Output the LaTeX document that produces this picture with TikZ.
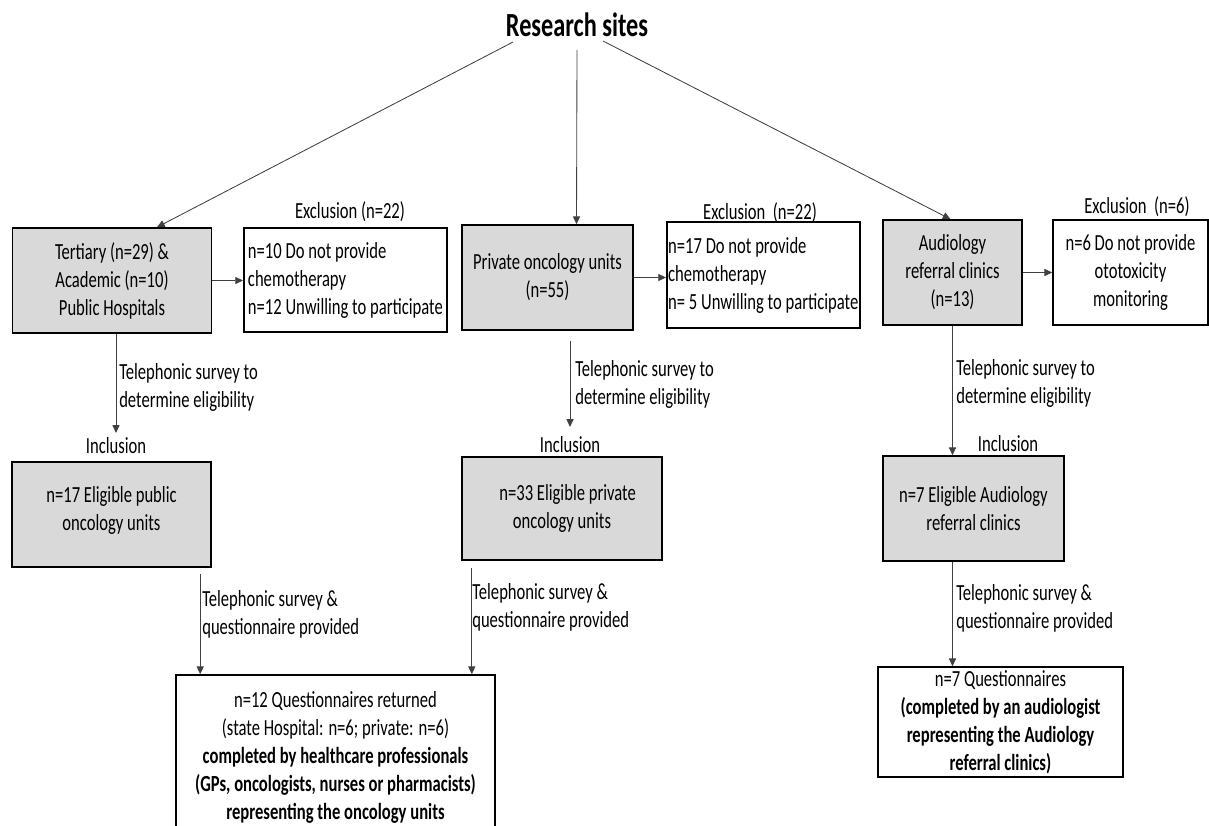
\documentclass[tikz,border=0pt]{standalone}
\usepackage{fontspec}
\setmainfont{Carlito}[FakeStretch=0.72]
\usetikzlibrary{arrows.meta}
\usetikzlibrary{positioning}
\usetikzlibrary{calc}
\definecolor{boxgray}{RGB}{217,217,217}

\begin{document}
\begin{tikzpicture}[x=0.025cm,y=-0.025cm,
        >={Triangle[length=5.5pt,width=5pt]},
        every node/.style={font=\fontsize{16.4}{19.9}\selectfont},
        site/.style={draw,line width=1.1pt,fill=boxgray,align=center,inner sep=2pt},
        excl/.style={draw,line width=1.1pt,fill=white,inner sep=3pt},
        flow/.style={->,draw=black!75,line width=0.6pt},
        note/.style={align=left,inner sep=0pt,anchor=west}]
        \useasboundingbox (0,0) rectangle (1209,826);
        % title
        \node[font=\fontsize{24}{28}\selectfont\bfseries] (title) at (577,25) {Research sites};
        % first row
        \node[site,minimum width=4.975cm,minimum height=2.625cm] (tert) at (112,280.5) {Tertiary (n=29) \&\\Academic (n=10)\\Public Hospitals};
        \node[excl,align=left,minimum height=2.6cm,anchor=west] (excl1) at (243,280) {n=10 Do not provide\\chemotherapy\\n=12 Unwilling to participate};
        \node[site,minimum width=4.275cm,minimum height=2.625cm] (priv) at (547.5,277.5) {Private oncology units\\(n=55)};
        \node[excl,align=left,inner xsep=1pt,minimum height=2.65cm,anchor=west] (excl2) at (666,275) {n=17 Do not provide\\chemotherapy\\n= 5 Unwilling to participate};
        \node[site,minimum width=3.475cm,minimum height=2.625cm] (aud) at (952.5,272.5) {Audiology\\referral clinics\\(n=13)};
        \node[excl,align=center,minimum width=3.875cm,minimum height=2.625cm] (excl3) at (1130.5,272.5) {n=6 Do not provide\\ototoxicity\\monitoring};
        \node (exlab1) at (350,212) {Exclusion (n=22)};
        \node (exlab2) at (760,213) {Exclusion~~(n=22)};
        \node (exlab3) at (1137,207) {Exclusion~~(n=6)};
        % second row
        \node[note] (tel1) at (119,387) {Telephonic survey to\\determine eligibility};
        \node[note] (tel2) at (575,384) {Telephonic survey to\\determine eligibility};
        \node[note] (tel3) at (956,383) {Telephonic survey to\\determine eligibility};
        \node (incl1) at (116,446) {Inclusion};
        \node (incl2) at (570,445) {Inclusion};
        \node (incl3) at (1008,444) {Inclusion};
        \node[site,minimum width=4.975cm,minimum height=2.625cm] (pubel) at (111.5,514.5) {n=17 Eligible public\\oncology units\\[-11pt]};
        \node[site,minimum width=5cm,minimum height=2.575cm] (privel) at (562,508.5) {~~~n=33 Eligible private\\oncology units};
        \node[site,minimum width=4.525cm,minimum height=2.625cm] (audel) at (973.5,508.5) {n=7 Eligible Audiology\\referral clinics};
        % third row
        \node[note] (quest1) at (202,614) {Telephonic survey \&\\questionnaire provided};
        \node[note] (quest2) at (472,607) {Telephonic survey \&\\questionnaire provided};
        \node[note] (quest3) at (956,608) {Telephonic survey \&\\questionnaire provided};
        \node[excl,align=center,inner sep=0pt,minimum width=7.975cm,minimum height=4.125cm] (qret) at (335.5,757.5) {n=12 Questionnaires returned\\(state Hospital: n=6; private: n=6)\\\textbf{completed by healthcare professionals}\\\textbf{(GPs, oncologists, nurses or pharmacists)}\\\textbf{representing the oncology units}};
        \node[excl,align=center,inner sep=0pt,minimum width=6.125cm,minimum height=2.75cm] (qaud) at (1000.5,722) {n=7 Questionnaires\\\textbf{(completed by an audiologist}\\\textbf{representing the Audiology}\\\textbf{referral clinics)}};
        \coordinate (in1) at ($(qret.north west)+(25,0)$);
        \coordinate (in2) at ($(qret.north east)+(-24,0)$);
        % arrows
        \draw[flow] ($(title)+(-64,17)$) -- ($(tert.north)+(45,0)$);
        \draw[flow] ($(title)+(0,25)$) -- ($(priv.north)+(29,0)$);
        \draw[flow] ($(title)+(26,16)$) -- ($(aud.north)+(-2,0)$);
        \draw[flow] (tert.east) -- (tert.east -| excl1.west);
        \draw[flow] (priv.east) -- (priv.east -| excl2.west);
        \draw[flow] (aud.east) -- (aud.east -| excl3.west);
        \draw[flow] (incl1.north |- tert.south) -- (incl1.north);
        \draw[flow] (incl2.north |- priv.south) ++(0,10) -- ($(incl2.north)+(0,-5)$);
        \draw[flow] (aud.south) -- (aud.south |- audel.north);
        \draw[flow] ($(in1 |- pubel.south)+(0,6)$) -- (in1);
        \draw[flow] ($(in2 |- privel.south)+(0,7)$) -- (in2);
        \draw[flow] (aud.south |- audel.south) -- (aud.south |- qaud.north);
\end{tikzpicture}
\end{document}
